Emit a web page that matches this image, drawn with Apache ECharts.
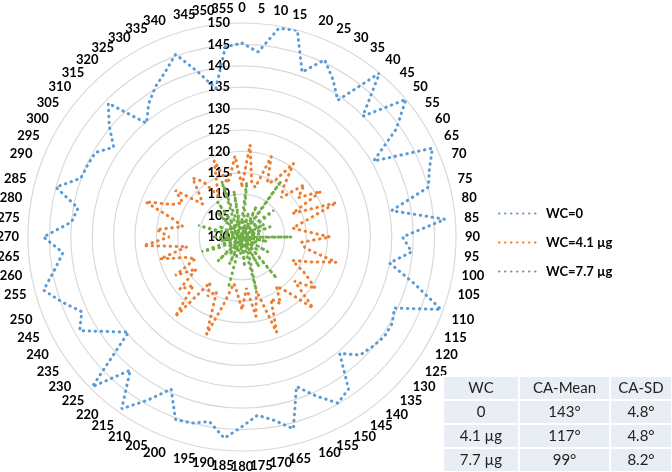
<!DOCTYPE html>
<html><head><meta charset="utf-8">
<script src="https://cdn.jsdelivr.net/npm/echarts@6/dist/echarts.min.js"></script>
<style>html,body{margin:0;padding:0;background:#fff}#c{width:672px;height:472px}</style>
</head><body><div id="c"></div>
<script>
const angles = [0,5,10,15,20,25,30,35,40,45,50,55,60,65,70,75,80,85,90,95,100,105,110,115,120,125,130,135,140,145,150,155,160,165,170,175,180,185,190,195,200,205,210,215,220,225,230,235,240,245,250,255,260,265,270,275,280,285,290,295,300,305,310,315,320,325,330,335,340,345,350,355];
const seriesNames = ['WC=0', 'WC=4.1 µg', 'WC=7.7 µg'];
const wc0 = [145.3,143.4,149.5,150,141,145.7,142.5,139,150,139.9,150,144,135.5,149.1,146.6,145.1,135.5,147.6,137.5,139.8,135,141.5,149.5,139.3,140.5,140.6,139.8,139,135.5,143.4,144.8,141,137.2,146.4,143.5,141.8,144.3,147.2,143.8,145,145.4,139.2,144,149,140.6,149.5,134.6,138.5,143.8,141.3,144.6,148,144.5,142,146.4,140,138.9,145,140.1,139.8,139.5,136.6,140.5,144.2,134.7,138,140.5,142.5,145.4,140,135.2,144.6];
const wc41 = [112,121.6,113,112,120,114,115,121,115,113,119,116,121.3,113,123.5,116,112,115,120.6,114,115,122.8,117,113,117,121,116,123.5,117,114,118,116,123.7,113,118.8,112,117,113,111,116,124.2,114,116,113,124.3,116,119,113,118,112,114,119.8,113,123.1,117,120,114,117,124,118,116,119,112,114,118,115.8,111,114,119,113,115,119];
const wc77 = [104,112.9,101,106,100,108,102,116,100,105,109.7,101,106,100,107,102,104,100,111.6,101,106,100,104,101,107,100,105,101,112.6,100,108,102,105,112.8,100,107,101,104,100,112.3,101,107,100,105,102,108,100,104,101,106,110,100,105,102,107,100,104,110.6,101,106,100,104,102,108,100,110,101,105,113.9,102,111,100];
const radiusMin = 100, radiusMax = 150, radiusStep = 5;
const tableHeader = ['WC', 'CA-Mean', 'CA-SD'];
const tableRows = [['0', '143°', '4.8°'], ['4.1 µg', '117°', '4.8°'], ['7.7 µg', '99°', '8.2°']];
const colors = ['#5B9BD5', '#ED7D31', '#70AD47'];

function loop(vals) {
  const d = angles.map((a, i) => [vals[i], a]);
  d.push([vals[0], 360]);
  return d;
}

const chart = echarts.init(document.getElementById('c'));
const font = 'Lato, "Open Sans", sans-serif';

const colX = [443, 519, 610, 672];
const rowY = [376, 400, 424, 448, 472];
const tbl = [];
const allRows = [tableHeader].concat(tableRows);
allRows.forEach((row, r) => {
  row.forEach((txt, c) => {
    tbl.push({type: 'rect', shape: {x: colX[c], y: rowY[r], width: colX[c+1]-colX[c], height: rowY[r+1]-rowY[r]},
      style: {fill: '#E9EDF4', stroke: '#fff', lineWidth: 2}, z: 10});
    tbl.push({type: 'text', x: (colX[c]+colX[c+1])/2, y: (rowY[r]+rowY[r+1])/2,
      style: {text: txt, fill: '#222', font: '15px ' + font, align: 'center', verticalAlign: 'middle'}, z: 11});
  });
});

const mkSeries = (name, vals, i) => ({
  name, type: 'line', coordinateSystem: 'polar', data: loop(vals), symbol: 'none',
  color: colors[i],
  lineStyle: {color: colors[i], width: 3, type: [0.5, 5.5], cap: 'round'},
  z: 2 + i, animation: false
});

chart.setOption({
  animation: false,
  polar: {center: [242, 237], radius: 214},
  angleAxis: {type: 'value', min: 0, max: 360, interval: 5, startAngle: 90, clockwise: true,
    axisLine: {show: false}, axisTick: {show: false}, splitLine: {show: false},
    axisLabel: {showMaxLabel: false, fontSize: 13, fontWeight: 'bold', color: '#000', margin: 9, fontFamily: font}},
  radiusAxis: {min: radiusMin, max: radiusMax, interval: radiusStep,
    axisLine: {show: false}, axisTick: {show: false},
    splitLine: {show: true, lineStyle: {color: '#D9D9D9', width: 1.2}},
    axisLabel: {fontSize: 13, fontWeight: 'bold', color: '#000', fontFamily: font, showMinLabel: true, margin: 12}},
  legend: {orient: 'vertical', left: 493, top: 202, itemWidth: 42, itemHeight: 10, itemGap: 16,
    itemStyle: {opacity: 0},
    data: seriesNames, textStyle: {fontSize: 13, fontWeight: 'bold', color: '#000', fontFamily: font}},
  series: [mkSeries(seriesNames[0], wc0, 0), mkSeries(seriesNames[1], wc41, 1), mkSeries(seriesNames[2], wc77, 2)],
  graphic: tbl
});
</script></body></html>
